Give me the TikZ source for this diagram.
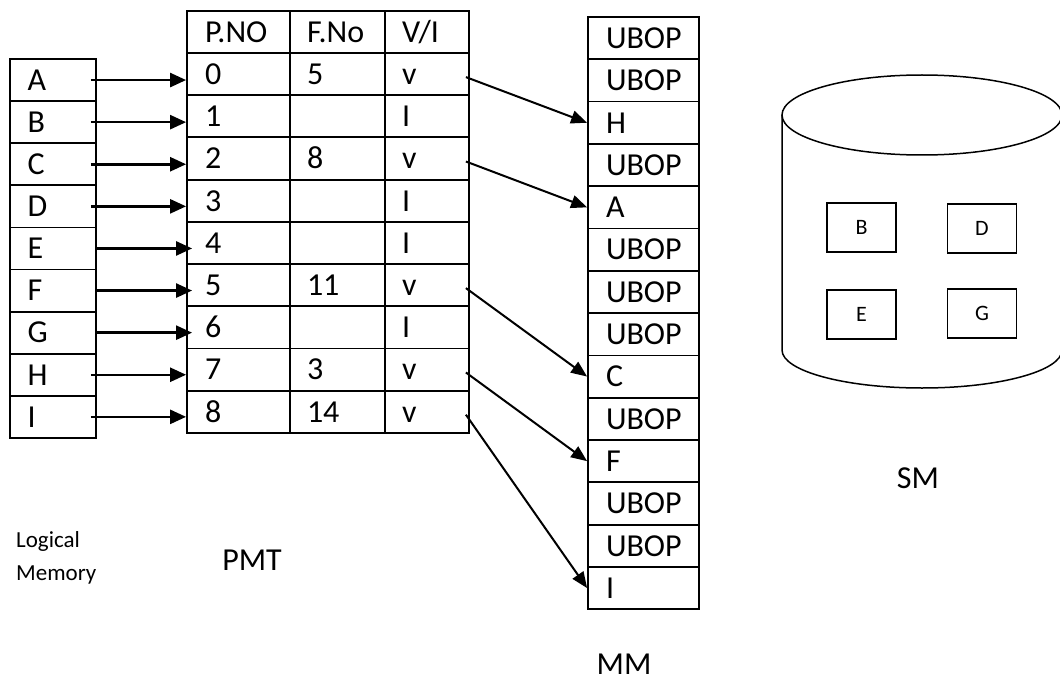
\documentclass[tikz,border=0pt]{standalone}
\usepackage{fontspec}
\setmainfont{Carlito}
\usetikzlibrary{arrows.meta,calc}
\begin{document}
\begin{tikzpicture}[x=1pt,y=-1pt,
  every node/.style={font=\fontsize{32}{37}\selectfont},
  cell/.style={draw, line width=1.8pt, inner ysep=0pt, minimum height=42.2pt, text height=20.6pt, text depth=0pt, align=left},
  lmcell/.style={cell, text width=51pt, inner xsep=17.5pt, minimum height=42.1pt},
  pcol/.style={cell, text width=67pt, inner xsep=18pt},
  fcol/.style={cell, text width=61pt, inner xsep=17pt},
  vcol/.style={cell, text width=50pt, inner xsep=17pt},
  mmcell/.style={cell, text width=75pt, inner xsep=18pt, minimum height=42.3pt},
  arrA/.style={line width=2.5pt, -{Triangle[length=16pt,width=14pt]}},
  arrB/.style={line width=2pt, -{Triangle[length=16pt,width=13pt]}},
  smbox/.style={draw, line width=1.8pt, minimum width=69pt, minimum height=49pt, inner sep=0pt, font=\fontsize{22}{26}\selectfont},
  plainlbl/.style={inner sep=0pt}]
\clip (0,0) rectangle (1060,682);
% Logical memory
\foreach \l [count=\i from 0] in {A,B,C,D,E,F,G,H,I}
  \node[lmcell] (l\l) at (53,80.05+42.1*\i) {\l};
% PMT header
\node[pcol, minimum height=42pt] (ph) at (238.5,32) {P.NO};
\node[fcol, minimum height=42pt] (fh) at (337.5,32) {F.No};
\node[vcol, minimum height=42pt] (vh) at (427,32) {V/I};
% PMT rows
\foreach \p/\f/\v [count=\i from 0] in {0/5/v,1//I,2/8/v,3//I,4//I,5/11/v,6//I,7/3/v,8/14/v}{
  \node[pcol] (p\i) at (238.5,74.1+42.2*\i) {\p};
  \node[fcol] (f\i) at (337.5,74.1+42.2*\i) {\f};
  \node[vcol] (v\i) at (427,74.1+42.2*\i) {\v};
}
% Main memory
\foreach \m [count=\i from 0] in {UBOP,UBOP,H,UBOP,A,UBOP,UBOP,UBOP,C,UBOP,F,UBOP,UBOP,I}
  \node[mmcell] (m\i) at (643.5,38.15+42.3*\i) {\m};
% LM -> PMT arrows
\foreach \l/\s in {A/0,B/0,C/0,D/0,E/6,F/6,G/6,H/0,I/0}
  \draw[arrA] ([xshift=\s-6]l\l.east) -- ($(l\l.east -| p0.west)+(\s,0)$);
% PMT -> MM arrows
\foreach \a/\b in {0/2,2/4,5/8,7/10,8/13}
  \draw[arrB] ([xshift=-4pt,yshift=-3pt]v\a.east) -- (m\b.west);
% Secondary memory cylinder
\draw[line width=1.5pt] (922,115) ellipse [x radius=140pt, y radius=40pt];
\draw[line width=1.5pt] (782,115) -- (782,350) arc[start angle=180, end angle=360, x radius=140pt, y radius=38pt] -- (1062,115);
\node[smbox] (sB) at (861.5,227.5) {B};
\node[smbox] (sD) at (982,228.5) {D};
\node[smbox] (sE) at (861.5,314.5) {E};
\node[smbox] (sG) at (982,313.5) {G};
% Labels
\node[plainlbl, anchor=west, align=left, font=\fontsize{23}{33}\selectfont] (lmlab) at (16,558) {Logical\\Memory};
\node[plainlbl] (pmtlab) at (252,560) {PMT};
\node[plainlbl] (mmlab) at (624,664) {MM};
\node[plainlbl] (smlab) at (918,478) {SM};
\end{tikzpicture}
\end{document}
